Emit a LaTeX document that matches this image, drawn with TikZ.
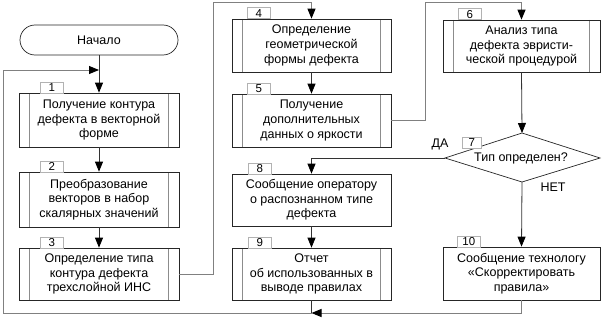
\documentclass[tikz,border=0pt]{standalone}
\usepackage{fontspec}
\setmainfont{Liberation Sans}
\usetikzlibrary{arrows.meta,calc}
\begin{document}
\begin{tikzpicture}[x=1pt,y=-1pt,
  every node/.style={font=\fontsize{12.5}{14.6}\selectfont, align=center, inner sep=0pt},
  box/.style={draw=black!85, line width=0.7pt, fill=white, minimum width=159pt, minimum height=53pt},
  proc/.style={box, path picture={
      \draw[black!45, line width=1.1pt] ([xshift=10.5pt]path picture bounding box.north west) -- ([xshift=10.5pt]path picture bounding box.south west);
      \draw[black!45, line width=1.1pt] ([xshift=-10.5pt]path picture bounding box.north east) -- ([xshift=-10.5pt]path picture bounding box.south east);}},
  tag/.style={draw=black!30, line width=0.5pt, fill=white, minimum width=23pt, minimum height=11pt, font=\fontsize{11.5}{11}\selectfont, anchor=south west},
  line/.style={draw=black!80, line width=0.8pt},
  back/.style={draw=black!50, line width=1pt},
  tip/.style={-{Triangle[length=10pt,width=8pt,black]}},
]
\useasboundingbox (0,0) rectangle (604,321);

% terminal
\node[draw=black!85, line width=0.7pt, rounded corners=15pt, minimum width=158pt, minimum height=30pt] (start) at (99,40) {Начало};

% column 1
\node[proc, minimum width=160pt, minimum height=54pt] (b1) at (99,120) {Получение контура\\дефекта в векторной\\форме};
\node[proc, minimum width=160pt, minimum height=55pt] (b2) at (99,199.5) {Преобразование\\векторов в набор\\скалярных значений};
\node[proc, minimum width=160pt, minimum height=52pt] (b3) at (99,274) {Определение типа\\контура дефекта\\трехслойной ИНС};

% column 2
\node[proc] (b4) at (311.5,45.5) {Определение\\геометрической\\формы дефекта};
\node[proc] (b5) at (311.5,120.5) {Получение\\дополнительных\\данных о яркости};
\node[box, minimum height=52pt] (b8) at (311.5,200) {Сообщение оператору\\о распознанном типе\\дефекта};
\node[proc, minimum height=52pt] (b9) at (311.5,274) {Отчет\\об использованных в\\выводе правилах};

% column 3
\node[proc, minimum width=157pt, minimum height=52pt] (b6) at (521.5,46) {Анализ типа\\дефекта эвристи-\\ческой процедурой};
\coordinate (d7n) at (522,133);
\coordinate (d7w) at (445,158);
\coordinate (d7e) at (600,158);
\coordinate (d7s) at (522,182);
\draw[draw=black!85, line width=0.7pt, fill=white] (d7n) -- (d7e) -- (d7s) -- (d7w) -- cycle;
\node (d7) at (521,158) {Тип определен?};
\node[box, minimum width=157pt, minimum height=53pt] (b10) at (521.5,273.5) {Сообщение технологу\\«Скорректировать\\правила»};

% tags
\node[tag] (t1) at (40,93) {1};
\node[tag] (t2) at (40,172) {2};
\node[tag] (t3) at (40,248) {3};
\node[tag] (t4) at (247,19) {4};
\node[tag] (t5) at (247,94) {5};
\node[tag] (t6) at (458,20) {6};
\node[tag, minimum width=19pt] (t7) at (462,148) {7};
\node[tag] (t8) at (248,174) {8};
\node[tag] (t9) at (248,248) {9};
\node[tag] (t10) at (457,247) {10};

% branch labels
\node (da) at (440,144) {ДА};
\node (net) at (553,187) {НЕТ};

% helper coordinates
\coordinate (c3) at (213,3);
\coordinate (c5) at (425,3);
\coordinate (j) at (311.5,313);
\coordinate (c0) at (3,313);
\coordinate (j0) at (99,70);

% connectors
\draw[line, tip] (start) -- (b1);
\draw[line, tip] (b1) -- (b2);
\draw[line, tip] (b2) -- (b3);
\draw[back, tip] (b3.east) -| (c3) -| (b4.north);
\draw[line, tip] (b4) -- (b5);
\draw[back, tip] (b5.east) -| (c5) -| (b6.north);
\draw[line, tip] (b6.south) -- (d7n);
\draw[line, tip] (d7w) -| (b8.north);
\draw[line, tip] (d7s) -- (b10.north);
\draw[line, tip] (b8) -- (b9);
\draw[line] (b9.south) -- (j);
\draw[back, tip] (b10.south) |- (j);
\draw[back, tip] (j) -| (c0) |- (j0);
\end{tikzpicture}
\end{document}
